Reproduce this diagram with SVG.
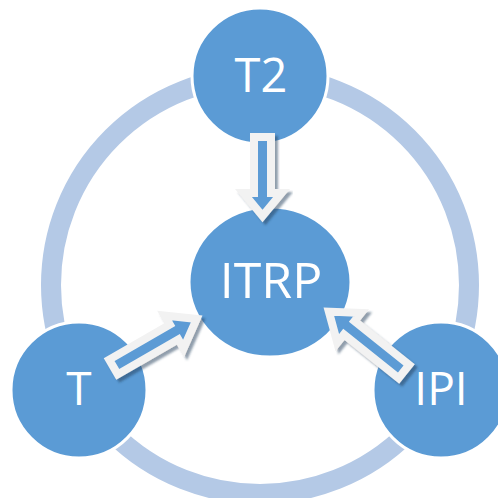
<svg xmlns="http://www.w3.org/2000/svg" width="498" height="498" viewBox="0 0 498 498">
<style>
.node{fill:#5B9BD5;stroke:#FFFFFF;stroke-width:3}
.lbl{fill:#FFFFFF;font-family:"Open Sans","Noto Sans",sans-serif;text-anchor:middle}
.arr{fill:#5B9BD5;stroke:#F2F2F2;stroke-width:8;stroke-linejoin:miter;stroke-miterlimit:10}
</style>
<defs>
<filter id="sh" x="-30%" y="-30%" width="160%" height="160%">
<feDropShadow dx="3" dy="3" stdDeviation="1" flood-color="#1F3A5A" flood-opacity="0.5"/>
</filter>
</defs>
<rect width="498" height="498" fill="#FFFFFF"/>
<circle cx="260" cy="285" r="209" fill="none" stroke="#B4C9E6" stroke-width="20"/>
<g id="T2"><circle class="node" cx="260" cy="76" r="68"/><text class="lbl" x="261" y="92" font-size="47">T2</text></g>
<g id="ITRP"><ellipse class="node" cx="270" cy="282" rx="81" ry="75"/><text class="lbl" x="271" y="298" font-size="50">ITRP</text></g>
<g id="T"><circle class="node" cx="79" cy="390" r="68"/><text class="lbl" x="79" y="405" font-size="46">T</text></g>
<g id="IPI"><circle class="node" cx="441" cy="390" r="68"/><text class="lbl" x="441" y="405" font-size="46">IPI</text></g>
<g id="connectors">
<g filter="url(#sh)"><path class="arr" transform="translate(262.5,133) rotate(90)" d="M4,-8.5 L60,-8.5 L60,-19 L83,0 L60,19 L60,8.5 L4,8.5 Z"/></g>
<g filter="url(#sh)"><path class="arr" transform="translate(110,369) rotate(-30)" d="M4,-8.5 L74,-8.5 L74,-19 L100,0 L74,19 L74,8.5 L4,8.5 Z"/></g>
<g filter="url(#sh)"><path class="arr" transform="translate(407,374) rotate(-141.4)" d="M4,-8.5 L74,-8.5 L74,-19 L100,0 L74,19 L74,8.5 L4,8.5 Z"/></g>
</g>
</svg>
